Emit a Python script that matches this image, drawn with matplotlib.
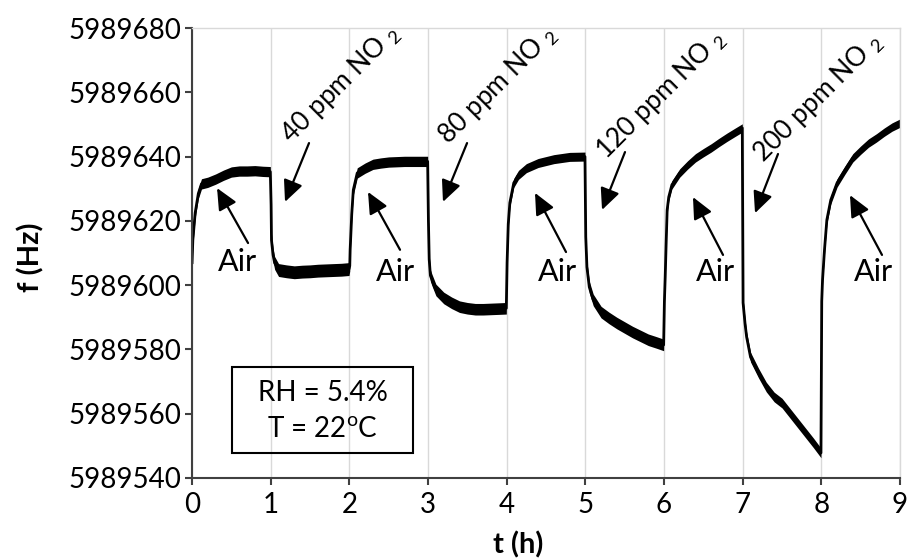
import numpy as np
import matplotlib
matplotlib.use("Agg")
import matplotlib.pyplot as plt
from matplotlib.patches import Rectangle

plt.rcParams['font.family'] = ['Lato', 'DejaVu Sans']
plt.rcParams['mathtext.fontset'] = 'custom'
plt.rcParams['mathtext.rm'] = 'Lato'

# frequency trace (t in hours, f in Hz)
t_h = [0.0, 0.01, 0.04, 0.08, 0.12, 0.2, 0.3, 0.4, 0.5, 0.6, 0.7, 0.8, 0.9, 0.995,
       1.005, 1.01, 1.03, 1.05, 1.1, 1.2, 1.3, 1.4, 1.5, 1.6, 1.7, 1.8, 1.9, 1.995,
       2.005, 2.01, 2.03, 2.05, 2.1, 2.2, 2.3, 2.4, 2.5, 2.6, 2.7, 2.8, 2.9, 2.995,
       3.005, 3.015, 3.03, 3.05, 3.1, 3.2, 3.3, 3.4, 3.5, 3.6, 3.7, 3.8, 3.9, 3.995,
       4.005, 4.02, 4.04, 4.09, 4.15, 4.25, 4.4, 4.6, 4.8, 4.995,
       5.005, 5.02, 5.05, 5.1, 5.2, 5.3, 5.4, 5.5, 5.6, 5.7, 5.8, 5.9, 5.995,
       6.005, 6.015, 6.027, 6.04, 6.06, 6.1, 6.2, 6.3, 6.4, 6.5, 6.6, 6.7, 6.8, 6.9, 6.995,
       7.005, 7.03, 7.05, 7.1, 7.2, 7.3, 7.4, 7.5, 7.6, 7.7, 7.8, 7.9, 7.995,
       8.005, 8.015, 8.04, 8.07, 8.12, 8.2, 8.3, 8.4, 8.5, 8.6, 8.7, 8.8, 8.9, 9.0]
f_hz = [5989607, 5989614, 5989622.5, 5989628.5, 5989631.5, 5989632, 5989633, 5989634.2,
        5989635.2, 5989635.5, 5989635.5, 5989635.6, 5989635.4, 5989635.3,
        5989625, 5989614, 5989609.4, 5989606.9, 5989604.7, 5989604.3, 5989604.0, 5989604.2,
        5989604.3, 5989604.5, 5989604.6, 5989604.7, 5989604.8, 5989605.0,
        5989606, 5989611, 5989622, 5989629.6, 5989634.9, 5989636.4, 5989637.6, 5989638.0,
        5989638.3, 5989638.4, 5989638.5, 5989638.5, 5989638.5, 5989638.5,
        5989620, 5989608, 5989603, 5989601.6, 5989598.5, 5989596, 5989594.5, 5989593.3,
        5989592.8, 5989592.5, 5989592.5, 5989592.6, 5989592.7, 5989592.8,
        5989607, 5989619, 5989625.6, 5989631.8, 5989634.3, 5989636.4, 5989638, 5989639.2,
        5989639.9, 5989640,
        5989615, 5989605.6, 5989599.4, 5989595.4, 5989591.6, 5989589.8, 5989588.2, 5989586.8,
        5989585.4, 5989584.2, 5989583, 5989582.2, 5989581.4,
        5989595, 5989602.5, 5989613, 5989623.4, 5989627.4, 5989631.2, 5989634.9, 5989637.4,
        5989639.6, 5989641.2, 5989642.7, 5989644.4, 5989646, 5989647.5, 5989648.9,
        5989594.5, 5989588, 5989583.9, 5989577.6, 5989572.7, 5989568.3, 5989565.2, 5989563.3,
        5989560.2, 5989557.1, 5989554, 5989550.9, 5989547.8,
        5989595, 5989601.6, 5989611, 5989620.3, 5989626.5, 5989631.8, 5989635.8, 5989639.6,
        5989642, 5989644.2, 5989645.8, 5989647.6, 5989649.2, 5989650.4]
# half width of the noise band in each hour (Hz)
noise_hz = [1.6, 2.0, 1.6, 1.8, 1.4, 1.8, 1.3, 1.5, 1.3]

gas_labels = ["40", "80", "120", "200"]

t = np.array(t_h)
f = np.array(f_hz)
band = np.array(noise_hz)[np.minimum(t.astype(int), 8)]

fig = plt.figure(figsize=(9.08, 5.58), dpi=100)
ax = fig.add_axes([0.2115, 0.1434, 0.7797, 0.8064])

ax.fill_between(t, f - band, f + band, color='black', lw=0)
ax.plot(t, f, color='black', lw=2)

ax.set_xlim(0, 9)
ax.set_ylim(5989540, 5989680)
ax.set_xticks(range(0, 10))
ax.set_yticks(range(5989540, 5989681, 20))
ax.yaxis.set_major_formatter(matplotlib.ticker.FormatStrFormatter('%d'))
ax.grid(axis='x', color='#d9d9d9', lw=1)
ax.set_axisbelow(True)
for s in ['top', 'right']:
    ax.spines[s].set_color('#d9d9d9')
    ax.spines[s].set_linewidth(1)
for s in ['left', 'bottom']:
    ax.spines[s].set_color('#404040')
    ax.spines[s].set_linewidth(1.5)
ax.tick_params(direction='out', length=5, width=1.5, color='#404040', labelsize=20)
ax.tick_params(axis='x', pad=5)
ax.tick_params(axis='y', pad=3)

ax.set_xlabel("t (h)", fontsize=21, fontweight='bold')
ax.xaxis.set_label_coords(0.46, -0.118)
ax.set_ylabel("f (Hz)", fontsize=21, fontweight='bold')
ax.yaxis.set_label_coords(-0.208, 0.49)

arrow = dict(arrowstyle='-|>,head_length=0.65,head_width=0.3', color='black',
             lw=1.6, shrinkA=0, shrinkB=0, mutation_scale=20)

# "Air" labels: text position, arrow tail, arrow head
air_notes = [((0.572, 5989607.2), (0.712, 5989613.1), (0.318, 5989630.2)),
             ((2.580, 5989604.1), (2.644, 5989611.0), (2.237, 5989629.0)),
             ((4.640, 5989604.1), (4.754, 5989610.3), (4.360, 5989628.7)),
             ((6.648, 5989604.1), (6.750, 5989609.4), (6.368, 5989627.4)),
             ((8.657, 5989604.1), (8.771, 5989609.4), (8.364, 5989628.0))]
for txt, tail, head in air_notes:
    ax.text(txt[0], txt[1], "Air", fontsize=22, ha='center', va='center')
    ax.annotate("", xy=head, xytext=tail, arrowprops=arrow)

# NO2 labels: text start, arrow tail, arrow head
gas_notes = [((1.26, 5989643.8), (1.487, 5989644.2), (1.182, 5989625.9)),
             ((3.26, 5989643.5), (3.496, 5989644.2), (3.190, 5989625.9)),
             ((5.26, 5989639.0), (5.504, 5989641.4), (5.212, 5989623.4)),
             ((7.26, 5989638.0), (7.449, 5989640.8), (7.157, 5989622.4))]
for lab, (txt, tail, head) in zip(gas_labels, gas_notes):
    ax.text(txt[0], txt[1], lab + r" ppm NO $_\mathregular{2}$", fontsize=19,
            rotation=45, rotation_mode='anchor', ha='left', va='baseline')
    ax.annotate("", xy=head, xytext=tail, arrowprops=arrow)

ax.add_patch(Rectangle((0.508, 5989547.8), 2.301, 26.7, fill=False,
                       edgecolor='black', lw=1.5, zorder=3))
ax.text(1.658, 5989566.4, "RH = 5.4%", fontsize=20, ha='center', va='center')
ax.text(1.658, 5989554.9, r"T = 22$^\mathregular{o}$C", fontsize=20, ha='center', va='center')

fig.savefig("out.png", dpi=100)
